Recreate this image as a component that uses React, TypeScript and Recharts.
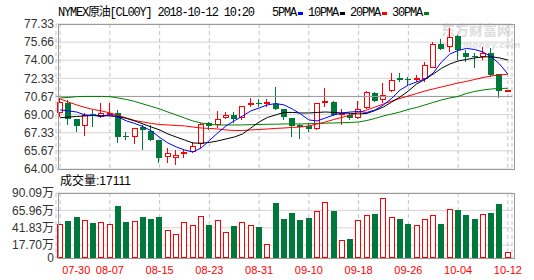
import React from 'react'
import { ComposedChart, Bar, Line, XAxis, YAxis, CartesianGrid, ReferenceLine } from 'recharts'

const tarikhen = [
  '07-30', '07-31', '08-01', '08-02', '08-03', '08-06', '08-07', '08-08', '08-09', '08-10',
  '08-13', '08-14', '08-15', '08-16', '08-17', '08-20', '08-21', '08-22', '08-23', '08-24',
  '08-27', '08-28', '08-29', '08-30', '08-31', '09-03', '09-04', '09-05', '09-06', '09-07',
  '09-10', '09-11', '09-12', '09-13', '09-14', '09-17', '09-18', '09-19', '09-20', '09-21',
  '09-24', '09-25', '09-26', '09-27', '09-28', '10-01', '10-02', '10-03', '10-04', '10-05',
  '10-08', '10-09', '10-10', '10-11', '10-12'
]

const tickTarikhen = ['07-30', '08-07', '08-15', '08-23', '08-31', '09-10', '09-18', '09-26', '10-04', '10-12']

const khulaBhav = [
  69.12, 70.10, 68.57, 67.96, 69.06, 68.76, 68.97, 69.15, 66.99, 66.92,
  67.86, 67.50, 66.67, 65.06, 65.00, 65.38, 65.55, 66.28, 68.20, 68.05,
  68.66, 68.97, 68.66, 69.86, 70.06, 70.00, 69.95, 69.49, 68.66, 68.00,
  67.96, 67.65, 70.04, 70.19, 68.97, 68.97, 68.66, 69.58, 70.96, 70.35,
  71.17, 72.40, 72.25, 72.18, 72.28, 73.26, 75.46, 75.24, 76.25, 74.64,
  74.42, 74.27, 74.64, 72.71, 71.11
]
const uchchBhav = [
  70.55, 70.35, 68.60, 69.15, 69.43, 70.07, 70.05, 69.43, 67.43, 67.77,
  68.05, 68.05, 66.70, 65.91, 65.75, 65.75, 66.51, 68.20, 68.35, 69.36,
  69.27, 69.27, 69.82, 70.50, 70.41, 70.41, 71.51, 69.52, 68.70, 68.10,
  68.20, 70.06, 71.42, 70.22, 69.52, 69.12, 70.28, 71.17, 71.11, 71.88,
  72.80, 72.80, 72.49, 72.64, 73.87, 75.70, 75.95, 76.93, 76.30, 74.94,
  74.64, 75.24, 75.10, 72.75, 71.25
]
const nimnBhav = [
  68.80, 68.05, 67.40, 67.04, 67.87, 68.70, 68.95, 66.42, 66.67, 66.28,
  65.75, 66.60, 64.58, 64.51, 64.37, 65.00, 65.45, 65.91, 67.59, 67.75,
  68.57, 68.20, 68.51, 69.68, 69.73, 69.73, 69.45, 68.51, 66.97, 66.80,
  67.43, 67.59, 69.68, 68.88, 68.05, 68.51, 68.57, 69.55, 70.19, 70.04,
  71.11, 72.03, 71.72, 72.03, 72.03, 73.24, 74.94, 74.78, 74.02, 73.87,
  73.26, 74.02, 72.49, 70.56, 71.08
]
const bandBhav = [
  70.20, 68.57, 67.98, 68.97, 68.88, 69.12, 69.12, 66.90, 66.96, 67.74,
  67.59, 66.67, 65.05, 65.50, 65.30, 65.60, 66.12, 68.11, 67.96, 68.57,
  68.97, 68.57, 69.79, 70.04, 70.03, 70.19, 69.49, 68.81, 67.96, 67.85,
  67.65, 70.04, 70.28, 68.97, 69.12, 68.66, 69.49, 71.05, 70.25, 70.80,
  72.18, 72.18, 72.22, 72.34, 73.56, 75.46, 75.03, 76.16, 74.94, 74.33,
  74.39, 74.64, 72.64, 71.17, 71.23
]
// 成交量, 万
const matra = [
  47.1, 51.3, 56.8, 52.7, 48.5, 49.5, 47.1, 72.1, 49.9, 50.8,
  56.8, 54.1, 56.8, 38.4, 33.3, 49.5, 45.7, 58.2, 46.2, 52.7,
  36.0, 44.8, 49.9, 45.7, 43.4, 19.4, 76.7, 54.1, 62.4, 52.7,
  55.4, 65.1, 77.2, 65.1, 24.9, 26.3, 52.2, 59.6, 61.0, 82.7,
  56.4, 54.1, 47.1, 45.7, 53.6, 59.2, 47.1, 67.5, 66.5, 59.6,
  54.1, 60.6, 62.4, 74.8, 7.9
]
const ma5 = [
  69.43, 69.34, 69.24, 68.97, 68.92, 68.83, 68.97, 68.78, 68.42, 68.19,
  67.89, 67.50, 66.90, 66.39, 66.03, 65.75, 65.57, 65.93, 66.62, 67.31,
  67.96, 68.42, 68.88, 69.34, 69.61, 69.89, 70.02, 69.89, 69.52, 69.06,
  68.51, 68.42, 68.69, 68.97, 69.15, 69.24, 69.29, 69.20, 69.43, 69.89,
  70.50, 71.26, 71.72, 72.00, 72.28, 72.83, 73.84, 74.57, 74.89, 75.08,
  74.99, 74.76, 74.32, 73.65, 72.73
]
const ma10 = [
  68.71, 68.78, 68.83, 68.88, 68.92, 68.92, 68.88, 68.81, 68.65, 68.42,
  68.14, 67.86, 67.59, 67.22, 66.94, 66.67, 66.39, 66.37, 66.44, 66.58,
  66.76, 66.94, 67.22, 67.77, 68.32, 68.74, 68.97, 69.20, 69.20, 69.15,
  69.15, 69.20, 69.24, 69.20, 69.15, 69.12, 69.06, 69.11, 69.38, 69.70,
  70.16, 70.62, 71.17, 71.82, 72.23, 72.73, 73.26, 73.65, 73.93, 74.07,
  74.21, 74.30, 74.32, 74.21, 74.02
]
const ma20 = [
  70.44, 70.16, 69.89, 69.66, 69.47, 69.34, 69.15, 68.92, 68.69, 68.46,
  68.32, 68.19, 68.09, 68.05, 68.00, 67.96, 67.86, 67.77, 67.73, 67.68,
  67.59, 67.54, 67.54, 67.59, 67.63, 67.68, 67.73, 67.77, 67.82, 67.86,
  67.96, 68.14, 68.32, 68.55, 68.74, 68.97, 69.20, 69.43, 69.70, 69.98,
  70.25, 70.48, 70.71, 70.94, 71.17, 71.36, 71.54, 71.72, 71.91, 72.05,
  72.23, 72.41, 72.55, 72.64, 72.71
]
const ma30 = [
  70.53, 70.58, 70.65, 70.67, 70.67, 70.67, 70.65, 70.53, 70.39, 70.21,
  69.98, 69.75, 69.52, 69.24, 68.97, 68.69, 68.42, 68.23, 68.11, 68.05,
  68.05, 68.05, 68.05, 68.08, 68.09, 68.11, 68.12, 68.14, 68.14, 68.14,
  68.16, 68.19, 68.21, 68.23, 68.26, 68.28, 68.32, 68.46, 68.65, 68.88,
  69.06, 69.24, 69.47, 69.66, 69.89, 70.12, 70.35, 70.53, 70.67, 70.94,
  71.13, 71.26, 71.36, 71.40, 71.42
]

const keematTicks = [64.00, 65.67, 67.33, 69.00, 70.67, 72.33, 74.00, 75.66, 77.33]
const matraTicks = [0, 17.70, 41.83, 65.96, 90.09]

const LAAL = '#ff0000'
const HARA = '#00783c'

const panktiyan = tarikhen.map((tarikh, i) => ({
  tarikh,
  khula: khulaBhav[i],
  uchch: uchchBhav[i],
  nimn: nimnBhav[i],
  band: bandBhav[i],
  matra: matra[i],
  ma5: ma5[i],
  ma10: ma10[i],
  ma20: ma20[i],
  ma30: ma30[i]
}))

function Mombatti(props: any) {
  const { x, y, width, height, payload } = props
  if (x == null || y == null || !payload) return null
  const { khula, band, uchch, nimn } = payload
  const shikhar = Math.min(y, y + height)
  const tal = Math.max(y, y + height)
  const pixel = (v: number) =>
    uchch === nimn ? shikhar : shikhar + ((uchch - v) / (uchch - nimn)) * (tal - shikhar)
  const madhya = Math.round(x + width / 2)
  const badha = band >= khula
  const rang = badha ? LAAL : HARA
  const ooparY = Math.round(pixel(Math.max(khula, band)))
  const neecheY = Math.round(pixel(Math.min(khula, band)))
  const deh = neecheY - ooparY
  return (
    <g>
      <line x1={madhya - 0.5} x2={madhya - 0.5} y1={Math.round(shikhar)} y2={Math.round(tal)} stroke={rang} />
      {deh < 2
        ? <rect x={madhya - 3} y={ooparY} width={6} height={Math.max(deh, 1)} fill={rang} />
        : badha
          ? <rect x={madhya - 2.5} y={ooparY + 0.5} width={5} height={deh - 1} fill="#fff" stroke={rang} />
          : <rect x={madhya - 3} y={ooparY} width={6} height={deh} fill={rang} />}
    </g>
  )
}

function MatraStambh(props: any) {
  const { x, y, width, height, payload } = props
  if (x == null || y == null || !payload) return null
  const madhya = Math.round(x + width / 2)
  const upar = Math.round(Math.min(y, y + height))
  const neeche = Math.round(Math.max(y, y + height))
  if (payload.band >= payload.khula) {
    return <rect x={madhya - 2.5} y={upar + 0.5} width={5} height={Math.max(neeche - upar - 1, 0)} fill="#fff" stroke={LAAL} />
  }
  return <rect x={madhya - 3} y={upar} width={6} height={neeche - upar} fill={HARA} />
}

function TarikhTick(props: any) {
  const { x, y, payload, index } = props
  return (
    <text
      x={index === 0 ? x + 2 : x}
      y={y}
      dy="0.71em"
      textAnchor={index === 0 ? 'start' : 'middle'}
      fill={LAAL}
      fontSize={11}
      fontFamily="Liberation Sans, Arial, sans-serif"
    >
      {payload.value}
    </text>
  )
}

const fontSans = 'Liberation Sans, Arial, Noto Sans CJK SC, sans-serif'

const legendItems = [
  { naam: '5PMA', rang: '#0000ff', x: 272 },
  { naam: '10PMA', rang: '#000000', x: 308 },
  { naam: '20PMA', rang: '#ff0000', x: 350 },
  { naam: '30PMA', rang: '#008000', x: 392 }
]

export default function App() {
  return (
    <div style={{ position: 'absolute', left: 0, top: 0, width: 534, height: 280, background: '#fff', overflow: 'hidden' }}>
      {/* watermark */}
      <svg width={534} height={280} style={{ position: 'absolute', left: 0, top: 0 }}>
        <text x={441} y={35} fontSize={14} fontWeight="bold" fill="#dcdcdc" fontFamily="Noto Sans CJK SC">东方财富网</text>
        <text x={441} y={48} fontSize={9} fontWeight="bold" fontStyle="italic" fill="#e2e2e2" fontFamily="DejaVu Sans">eastmoney.com</text>
      </svg>

      <div style={{ position: 'absolute', left: 0, top: 0 }}>
        <ComposedChart width={534} height={175} data={panktiyan} margin={{ top: 24, right: 22, bottom: 6, left: 0 }}>
          <CartesianGrid horizontal vertical={false} stroke="#d4d4d4" />
          <CartesianGrid horizontal={false} vertical stroke="#c4c4c4" strokeDasharray="4 3" />
          <XAxis dataKey="tarikh" hide ticks={tickTarikhen} interval={0} />
          <YAxis
            domain={[64, 77.33]}
            ticks={keematTicks}
            interval={0}
            allowDataOverflow
            width={56}
            axisLine={false}
            tickLine={false}
            tickSize={0}
            tickMargin={2}
            tickFormatter={(v: number) => v.toFixed(2)}
            tick={{ fontSize: 12, fill: '#333', fontFamily: fontSans }}
          />
          <ReferenceLine y={70.67} stroke="#999" />
          <Line dataKey="ma30" stroke="#008000" strokeWidth={1} dot={false} isAnimationActive={false} />
          <Line dataKey="ma20" stroke="#ff0000" strokeWidth={1} dot={false} isAnimationActive={false} />
          <Line dataKey="ma10" stroke="#000000" strokeWidth={1} dot={false} isAnimationActive={false} />
          <Line dataKey="ma5" stroke="#0000ff" strokeWidth={1} dot={false} isAnimationActive={false} />
          <Bar
            dataKey={(d: any) => [d.nimn, d.uchch]}
            barSize={6}
            shape={(p: any) => <Mombatti {...p} />}
            isAnimationActive={false}
          />
        </ComposedChart>
      </div>

      <div style={{ position: 'absolute', left: 0, top: 175 }}>
        <ComposedChart width={534} height={105} data={panktiyan} margin={{ top: 18, right: 22, bottom: 0, left: 0 }}>
          <CartesianGrid horizontal vertical={false} stroke="#d4d4d4" />
          <CartesianGrid horizontal={false} vertical stroke="#c4c4c4" strokeDasharray="4 3" />
          <XAxis
            dataKey="tarikh"
            ticks={tickTarikhen}
            interval={0}
            height={22}
            axisLine={false}
            tickLine={false}
            tickSize={0}
            tickMargin={8}
            tick={(p: any) => <TarikhTick {...p} />}
          />
          <YAxis
            domain={[0, 90.09]}
            ticks={matraTicks}
            interval={0}
            allowDataOverflow
            width={56}
            axisLine={false}
            tickLine={false}
            tickSize={0}
            tickMargin={2}
            tickFormatter={(v: number) => (v === 0 ? '0' : v.toFixed(2) + '万')}
            tick={{ fontSize: 12, fill: '#333', fontFamily: fontSans }}
          />
          <Bar dataKey="matra" barSize={6} shape={(p: any) => <MatraStambh {...p} />} isAnimationActive={false} />
        </ComposedChart>
      </div>

      {/* panel frames */}
      <div style={{ position: 'absolute', left: 58, top: 24, width: 457, height: 146, boxSizing: 'border-box', border: '1px solid #999' }} />
      <div style={{ position: 'absolute', left: 58, top: 193, width: 457, height: 66, boxSizing: 'border-box', border: '1px solid #999' }} />

      <svg width={534} height={280} style={{ position: 'absolute', left: 0, top: 0 }}>
        <text x={58} y={16} fontSize={12} letterSpacing={-1.2} fill="#000" fontFamily="Liberation Mono, Noto Sans CJK SC, monospace">
          NYMEX原油[CL00Y] 2018-10-12 10:20
        </text>
        {legendItems.map(item => (
          <g key={item.naam}>
            <text x={item.x} y={16} fontSize={12} letterSpacing={-1.2} fill="#000" fontFamily="Liberation Mono, monospace">{item.naam}</text>
            <rect x={item.x + item.naam.length * 6 + 2} y={12} width={5} height={3} fill={item.rang} />
          </g>
        ))}
        <text x={60} y={185} fontSize={12} fill="#000" fontFamily={fontSans}>成交量:17111</text>
      </svg>
    </div>
  )
}
